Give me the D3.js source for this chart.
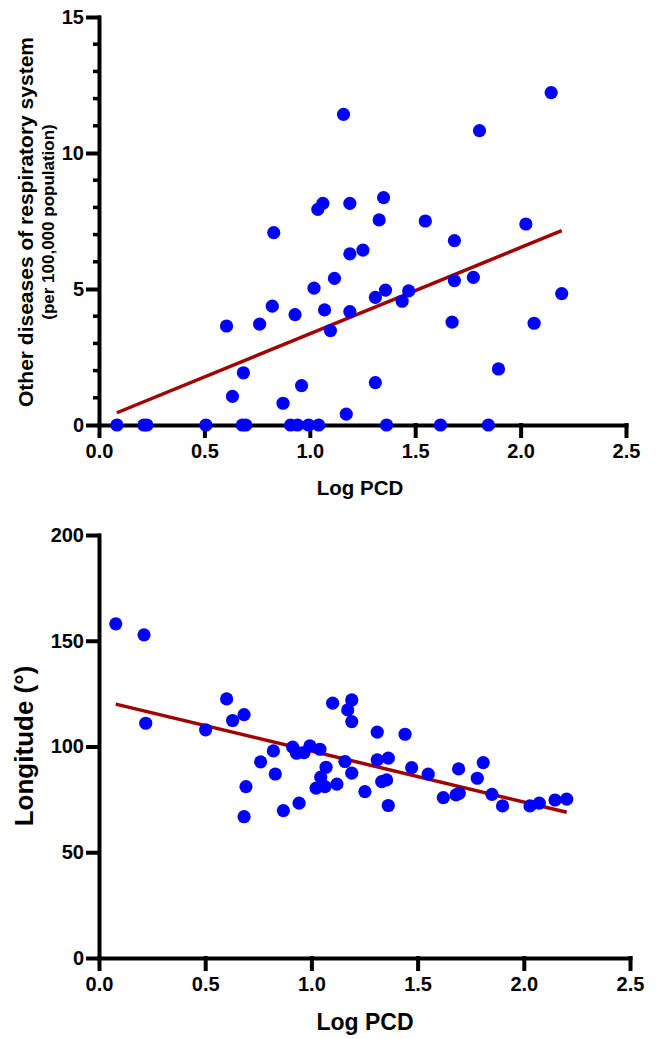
<!DOCTYPE html>
<html><head><meta charset="utf-8">
<script src="https://cdn.jsdelivr.net/npm/d3@7"></script>
<style>
body{margin:0;background:#fff}
svg text{font-family:"Liberation Sans",Arial,sans-serif;font-weight:bold;fill:#000}
.ax path, .ax line{stroke:#000;stroke-width:4px;stroke-linecap:square}
.minor{stroke:#000;stroke-width:3.5px}
</style>
</head><body>
<svg id="chart" width="662" height="1039"></svg>
<script>
// ---- Top chart data: Log PCD vs Other diseases of respiratory system ----
const topLogPCD = [
  0.085, 0.213, 0.227, 0.507, 0.68, 0.696, 0.909, 0.942, 0.994, 1.042, 1.364, 1.62, 1.847,
  0.829, 1.02, 1.117, 0.822, 0.93, 1.07, 1.098, 0.605, 0.762, 0.685, 0.633, 0.873, 0.961, 1.173,
  1.686, 1.19, 1.252, 1.776, 1.686, 1.359, 1.311, 1.469, 1.438, 1.19, 1.675, 2.064, 2.195, 1.895,
  1.311, 1.16, 1.805, 2.145, 1.038, 1.062, 1.19, 1.35, 1.329, 1.548, 2.025
];
const topRespiratory = [
  0, 0, 0, 0, 0, 0, 0, 0, 0, 0, 0, 0, 0,
  7.07, 5.03, 5.39, 4.37, 4.06, 4.23, 3.47, 3.64, 3.71, 1.92, 1.05, 0.80, 1.45, 0.40,
  6.78, 6.29, 6.43, 5.43, 5.31, 4.96, 4.69, 4.93, 4.55, 4.17, 3.78, 3.74, 4.83, 2.06,
  1.56, 11.42, 10.82, 12.22, 7.93, 8.15, 8.15, 8.36, 7.54, 7.50, 7.39
];
const topYTicks = [0, 5, 10, 15];
const topYMinor = [1,2,3,4,6,7,8,9,11,12,13,14];

// ---- Bottom chart data: Log PCD vs Longitude ----
const botLogPCD = [
  0.079, 0.212, 0.22, 0.502, 0.601, 0.629, 0.683, 1.10, 0.821, 0.912, 0.93, 0.965, 0.993, 1.04,
  0.761, 0.83, 0.692, 0.683, 0.868, 0.942, 1.069, 1.044, 1.022, 1.064, 1.12, 1.158, 1.19, 1.252,
  1.31, 1.362, 1.331, 1.354, 1.362, 1.472, 1.55, 1.621, 1.681, 1.696, 1.693, 1.781, 1.809, 1.85,
  1.90, 2.029, 2.073, 2.147, 2.202, 1.19, 1.171, 1.19, 1.31, 1.441
];
const botLongitude = [
  158.0, 152.8, 111.0, 107.9, 122.5, 112.3, 115.1, 120.5, 97.9, 99.7, 96.8, 97.1, 100.3, 98.7,
  92.7, 87.0, 81.0, 66.8, 69.7, 73.2, 90.2, 85.5, 80.3, 81.0, 82.2, 92.9, 87.4, 78.7,
  93.7, 94.5, 83.4, 84.2, 72.1, 90.0, 86.9, 75.8, 77.1, 77.9, 89.4, 85.0, 92.4, 77.4,
  71.9, 71.9, 73.2, 74.7, 75.1, 122.0, 117.3, 111.8, 106.8, 105.8
];
const botYTicks = [0, 50, 100, 150, 200];

const xTicks = [0, 0.5, 1.0, 1.5, 2.0, 2.5];

const svg = d3.select("#chart");

function linFit(xs, ys) {
  const mx = d3.mean(xs), my = d3.mean(ys);
  let sxy = 0, sxx = 0;
  xs.forEach((x, i) => { sxy += (x - mx) * (ys[i] - my); sxx += (x - mx) * (x - mx); });
  const slope = sxy / sxx;
  return { slope, intercept: my - slope * mx };
}

function drawPanel(opt) {
  const g = svg.append("g");
  const x = d3.scaleLinear().domain([0, 2.5]).range(opt.xRange);
  const y = d3.scaleLinear().domain(opt.yDomain).range(opt.yRange);

  // minor y ticks
  if (opt.yMinor) {
    g.selectAll("line.minor").data(opt.yMinor).join("line").attr("class", "minor")
      .attr("x1", x(0) - 6).attr("x2", x(0))
      .attr("y1", d => y(d)).attr("y2", d => y(d));
  }

  const yAxis = g.append("g").attr("class", "ax").attr("transform", `translate(${x(0)},0)`)
    .call(d3.axisLeft(y).tickValues(opt.yTicks).tickSize(11).tickSizeOuter(0).tickPadding(4).tickFormat(d3.format("d")));
  const xAxis = g.append("g").attr("class", "ax").attr("transform", `translate(0,${y(0)})`)
    .call(d3.axisBottom(x).tickValues(xTicks).tickSize(11).tickSizeOuter(0).tickPadding(8).tickFormat(d3.format(".1f")));
  [yAxis, xAxis].forEach(a => {
    a.selectAll(".tick text").attr("fill", "#000")
      .style("font-family", '"Liberation Sans",Arial,sans-serif')
      .style("font-weight", "bold").style("font-size", "20px");
  });

  // regression line
  const fit = linFit(opt.xs, opt.ys);
  const x0 = d3.min(opt.xs), x1 = d3.max(opt.xs);
  g.append("line")
    .attr("x1", x(x0)).attr("y1", y(fit.intercept + fit.slope * x0))
    .attr("x2", x(x1)).attr("y2", y(fit.intercept + fit.slope * x1))
    .style("stroke", "#a00000").style("stroke-width", "3.5px");

  // points
  g.selectAll("circle").data(opt.xs.map((d, i) => [d, opt.ys[i]])).join("circle")
    .attr("cx", d => x(d[0])).attr("cy", d => y(d[1])).attr("r", 6.6)
    .attr("fill", "#0000ff");

  // x title
  g.append("text").attr("x", opt.xTitlePos[0]).attr("y", opt.xTitlePos[1])
    .attr("text-anchor", "middle").style("font-size", opt.xTitleSize + "px").text("Log PCD");
  return g;
}

const topG = drawPanel({
  xs: topLogPCD, ys: topRespiratory, xRange: [99, 626], yDomain: [0, 15], yRange: [425, 17],
  yTicks: topYTicks, yMinor: topYMinor, xTitlePos: [360, 495], xTitleSize: 20.5
});
topG.append("text").attr("transform", "translate(33,222) rotate(-90)")
  .attr("text-anchor", "middle").style("font-size", "21px").text("Other diseases of respiratory system");
topG.append("text").attr("transform", "translate(54,222) rotate(-90)")
  .attr("text-anchor", "middle").style("font-size", "17px").text("(per 100,000 population)");

const botG = drawPanel({
  xs: botLogPCD, ys: botLongitude, xRange: [99, 630], yDomain: [0, 200], yRange: [958, 535],
  yTicks: botYTicks, yMinor: null, xTitlePos: [365, 1030], xTitleSize: 23
});
botG.append("text").attr("transform", "translate(33,746) rotate(-90)")
  .attr("text-anchor", "middle").style("font-size", "26px").text("Longitude (°)");
</script>
</body></html>
